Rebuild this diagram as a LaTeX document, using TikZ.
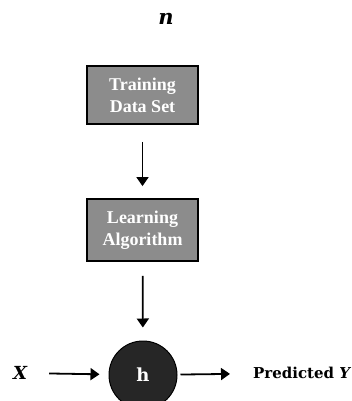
\documentclass[tikz,border=0pt]{standalone}
\usepackage{fontspec}
\setmainfont{DejaVu Serif}
\newfontfamily\boxfont{Liberation Serif}
\usetikzlibrary{arrows.meta}
\tikzset{
  box/.style={draw=black, line width=1.8pt, fill=black!45, minimum width=111pt, inner sep=0pt,
    text=white, font=\boxfont\bfseries\fontsize{18}{22}\selectfont, align=center},
  lbl/.style={inner sep=0pt, font=\bfseries\fontsize{15}{17}\selectfont},
  arr/.style={line width=1.8pt, -{Triangle[width=12pt,length=9pt]}}
}
\begin{document}
\begin{tikzpicture}[x=1pt,y=-1pt]
\useasboundingbox (0,0) rectangle (352,401);
\node[lbl, font=\bfseries\itshape\fontsize{21}{23}\selectfont] (n) at (166,19) {n};
\node[box, minimum height=58pt] (tds) at (142.5,95) {Training\\Data Set};
\node[box, minimum height=62pt] (la) at (142.5,230) {Learning\\Algorithm};
\node[circle, fill=black!85, draw=black, line width=1pt, minimum size=68pt, inner sep=0pt, text=white,
  font=\bfseries\fontsize{18}{20}\selectfont] (h) at (143,375) {h};
\node[lbl, font=\bfseries\itshape\fontsize{18}{20}\selectfont] (x) at (20,373) {X};
\node[lbl, anchor=west] (py) at (253,373) {Predicted \textit{Y}};
\draw[arr, shorten <=17pt, shorten >=12pt] (tds) -- (la);
\draw[arr, shorten <=14pt, shorten >=13pt] (la) -- (h);
\draw[arr, shorten <=22pt, shorten >=9pt] (x) -- (h);
\draw[arr, shorten <=3pt, shorten >=23pt] (h) -- (py);
\end{tikzpicture}
\end{document}
